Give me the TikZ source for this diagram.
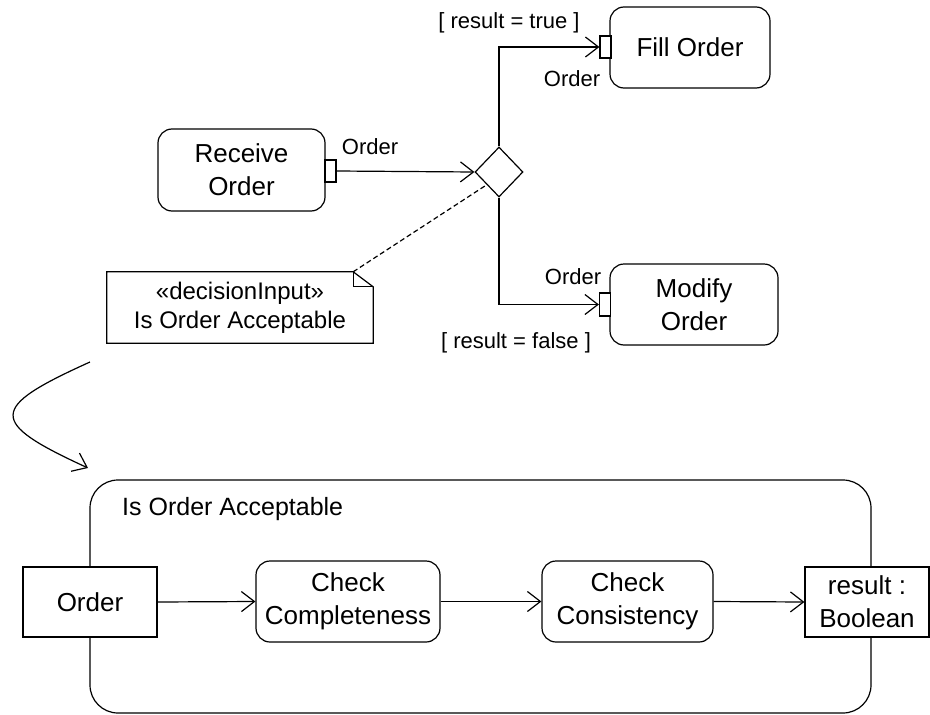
\documentclass[tikz,border=0pt]{standalone}
\usepackage{fontspec}
\setmainfont{Liberation Sans}
\usetikzlibrary{arrows.meta,shapes.geometric,calc}
\tikzset{
  ln/.style={line width=1.2pt},
  arr/.style={ln,-{Straight Barb[length=13pt,width=20pt,line width=1.2pt]}},
  act/.style={draw,ln,rounded corners=14pt,inner sep=0pt,align=center,fill=white,font=\fontsize{26}{33}\selectfont},
  pinbox/.style={draw,ln,inner sep=0pt,fill=white,minimum width=11pt},
  obj/.style={draw,ln,inner sep=0pt,align=center,fill=white,font=\fontsize{26}{33}\selectfont},
  lbl/.style={inner sep=0pt,font=\fontsize{22}{26}\selectfont},
}
\begin{document}
\begin{tikzpicture}[x=1pt,y=-1pt]
\useasboundingbox (0,0) rectangle (930,715);
% upper part
\node[act,minimum width=167pt,minimum height=82pt] (recv) at (241.5,170) {Receive\\Order};
\node[pinbox,minimum height=22pt] (pinA) at (330.5,171) {};
\node[draw,ln,shape=diamond,inner sep=0pt,minimum width=48pt,minimum height=50pt] (dia) at (499,172) {};
\node[act,minimum width=160pt,minimum height=81pt] (fill) at (690,47.5) {Fill Order};
\node[pinbox,minimum height=22pt] (pinB) at (605.5,47) {};
\node[act,minimum width=168pt,minimum height=81pt] (mod) at (694,304.5) {Modify\\Order};
\node[pinbox,minimum height=23pt] (pinC) at (605,304.5) {};
\draw[arr] (pinA.east) -- (dia.west);
\draw[arr] (dia.north) |- (pinB.west);
\draw[arr] (dia.south) |- (pinC.west);
\node[lbl] (lA) at (370,147) {Order};
\node[lbl] (gT) at (509,23) {[ result = true ]};
\node[lbl] (lB) at (572,79) {Order};
\node[lbl] (lC) at (573,277) {Order};
\node[lbl] (gF) at (516,343) {[ result = false ]};
% note
\node[inner sep=0pt,minimum width=266pt,minimum height=71pt,align=center,font=\fontsize{24}{29}\selectfont] (note) at (240,307.5) {«decisionInput»\\Is Order Acceptable};
\coordinate (fold) at ($(note.north east)+(-20,0)$);
\draw[ln] (note.north west) -- (fold) -- ($(note.north east)+(0,15)$) -- (note.south east) -- (note.south west) -- cycle;
\draw[ln] (fold) -- ($(fold)+(0,15)$) -- ($(note.north east)+(0,15)$);
\coordinate (dhit) at ($(dia.west)!0.5!(dia.south)$);
\draw[ln,dashed,dash pattern=on 5pt off 3pt] (fold) -- (dhit);
% curved arrow
\coordinate (cs) at (90,362);
\coordinate (ce) at (88,468);
\draw[arr] (cs) .. controls (-12,408) and (-12,422) .. (ce);
% lower frame
\node[draw,ln,rounded corners=28pt,minimum width=781pt,minimum height=233pt,inner sep=0pt] (frame) at (480.5,596.5) {};
\node[inner sep=0pt,font=\fontsize{25}{30}\selectfont,anchor=west] (title) at (122,509) {Is Order Acceptable};
\node[obj,minimum width=134pt,minimum height=70pt] (ordP) at (90,602) {Order};
\node[act,minimum width=184pt,minimum height=81pt] (ccomp) at (348,601.5) {Check\\Completeness};
\node[act,minimum width=171pt,minimum height=81pt] (ccons) at (627.5,601.5) {Check\\Consistency};
\node[obj,minimum width=124pt,minimum height=70pt] (res) at (867,602) {result :\\Boolean};
\draw[arr] (ordP.east) -- (ccomp.west);
\draw[arr] (ccomp.east) -- (ccons.west);
\draw[arr] (ccons.east) -- (res.west);
\end{tikzpicture}
\end{document}
